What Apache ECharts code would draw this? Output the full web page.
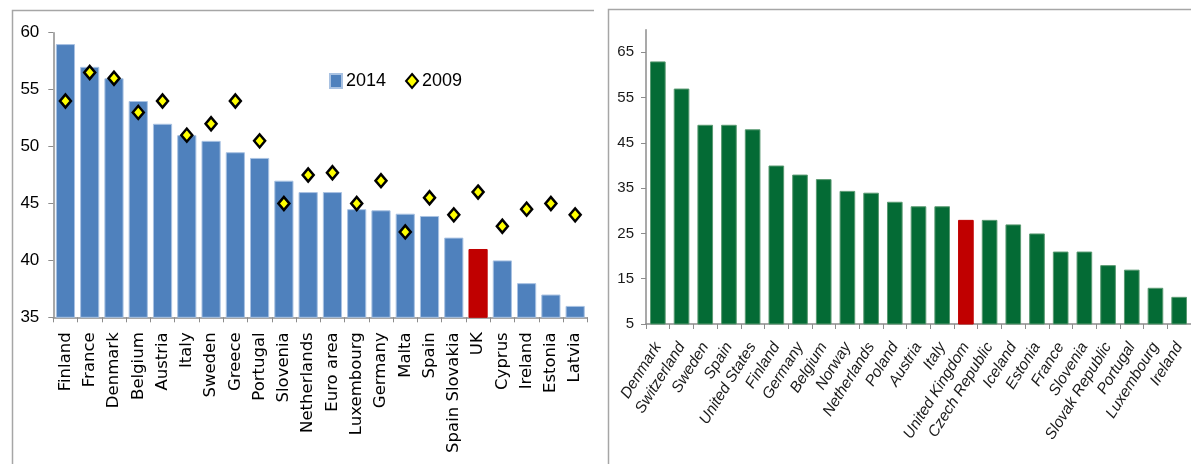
<!DOCTYPE html>
<html>
<head>
<meta charset="utf-8">
<script src="https://cdn.jsdelivr.net/npm/echarts@6/dist/echarts.min.js"></script>
<style>
  html, body { margin: 0; padding: 0; background: #fff; }
  #chart { width: 1191px; height: 464px; }
</style>
</head>
<body>
<div id="chart"></div>
<script>
// Left panel: euro-area comparison, 2014 bars with 2009 markers
const leftCategories = ['Finland', 'France', 'Denmark', 'Belgium', 'Austria', 'Italy', 'Sweden', 'Greece',
  'Portugal', 'Slovenia', 'Netherlands', 'Euro area', 'Luxembourg', 'Germany', 'Malta', 'Spain',
  'Spain Slovakia', 'UK', 'Cyprus', 'Ireland', 'Estonia', 'Latvia'];
const values2014 = [59, 57, 56, 54, 52, 51, 50.5, 49.5, 49, 47, 46, 46, 44.5, 44.4, 44.1, 43.9,
  42, 41, 40, 38, 37, 36];
const values2009 = [54, 56.5, 56, 53, 54, 51, 52, 54, 50.5, 45, 47.5, 47.7, 45, 47, 42.5, 45.5,
  44, 46, 43, 44.5, 45, 44];
const leftTicks = [35, 40, 45, 50, 55, 60];

// Right panel: OECD comparison
const rightCategories = ['Denmark', 'Switzerland', 'Sweden', 'Spain', 'United States', 'Finland',
  'Germany', 'Belgium', 'Norway', 'Netherlands', 'Poland', 'Austria', 'Italy', 'United Kingdom',
  'Czech Republic', 'Iceland', 'Estonia', 'France', 'Slovenia', 'Slovak Republic', 'Portugal',
  'Luxembourg', 'Ireland'];
const rightValues = [63, 57, 49, 49, 48, 40, 38, 37, 34.4, 34, 32, 31, 31, 28, 28, 27, 25, 21, 21,
  18, 17, 13, 11];
const rightTicks = [5, 15, 25, 35, 45, 55, 65];

const highlightLeft = 'UK';
const highlightRight = 'United Kingdom';

const BLUE = '#4f81bd';
const RED = '#c00000';
const GREEN = '#046b35';
const AXIS = '#8c8c8c';
const NARROW = '"Liberation Sans Narrow", "Liberation Sans", Arial, sans-serif';

const chart = echarts.init(document.getElementById('chart'), null, { renderer: 'canvas' });

chart.setOption({
  backgroundColor: '#ffffff',
  animation: false,
  graphic: [
    // panel frames
    { type: 'polyline', shape: { points: [[12.5, 464], [12.5, 10.5], [594, 10.5]] },
      style: { stroke: '#a6a6a6', lineWidth: 1.5, fill: null }, silent: true },
    { type: 'polyline', shape: { points: [[608.5, 464], [608.5, 9.5], [1191, 9.5]] },
      style: { stroke: '#a6a6a6', lineWidth: 1.5, fill: null }, silent: true }
  ],
  legend: {
    left: 329, top: 72, padding: 0,
    itemWidth: 12, itemHeight: 14, itemGap: 19,
    textStyle: { fontFamily: NARROW, fontSize: 18, color: '#000', padding: [0, 0, 0, -1] },
    data: [
      { name: '2014', icon: 'rect' },
      { name: '2009', icon: 'diamond' }
    ]
  },
  grid: [
    { left: 53.3, top: 32.7, right: 603.7, bottom: 146.7 },
    { left: 646, top: 29.7, right: -1, bottom: 140 }
  ],
  xAxis: [
    {
      type: 'category', gridIndex: 0, data: leftCategories,
      axisLine: { lineStyle: { color: AXIS, width: 1.5 } },
      axisTick: { show: true, alignWithLabel: false, length: 5, lineStyle: { color: AXIS } },
      axisLabel: {
        interval: 0, rotate: 90, margin: 15,
        fontFamily: '"DejaVu Sans", "Open Sans", sans-serif', fontSize: 16.5, color: '#000'
      }
    },
    {
      type: 'category', gridIndex: 1, data: rightCategories,
      axisLine: { lineStyle: { color: AXIS, width: 1.5 } },
      axisTick: { show: true, length: 5, lineStyle: { color: AXIS } },
      axisLabel: {
        interval: 0, rotate: 58, margin: 20,
        fontFamily: '"Liberation Sans", Arial, sans-serif', fontStyle: 'italic', fontSize: 15.5, color: '#1a1a1a'
      }
    }
  ],
  yAxis: [
    {
      type: 'value', gridIndex: 0, min: 35, max: 60, interval: 5,
      splitLine: { show: false },
      axisLine: { show: true, lineStyle: { color: AXIS, width: 1.5 } },
      axisTick: { show: true, length: 5, lineStyle: { color: AXIS } },
      axisLabel: {
        margin: 14, fontFamily: NARROW, fontSize: 17, color: '#000',
        customValues: leftTicks
      }
    },
    {
      type: 'value', gridIndex: 1, min: 5, max: 70,
      splitLine: { show: false },
      axisLine: { show: true, lineStyle: { color: AXIS, width: 1.5 } },
      axisTick: { show: true, length: 5, lineStyle: { color: AXIS }, customValues: rightTicks },
      axisLabel: {
        margin: 12, fontFamily: NARROW, fontSize: 15, color: '#1a1a1a',
        customValues: rightTicks
      }
    }
  ],
  series: [
    {
      name: '2014', type: 'bar', xAxisIndex: 0, yAxisIndex: 0,
      barCategoryGap: '21%',
      itemStyle: { color: BLUE, borderColor: '#a9c2e2', borderWidth: 1 },
      data: values2014.map((v, i) => leftCategories[i] === highlightLeft
        ? { value: v, itemStyle: { color: RED, borderColor: RED } }
        : v)
    },
    {
      name: '2009', type: 'scatter', xAxisIndex: 0, yAxisIndex: 0,
      symbol: 'diamond', symbolSize: [11, 13],
      itemStyle: { color: '#ffff00', borderColor: '#000', borderWidth: 2.5, opacity: 1 },
      data: values2009, z: 5
    },
    {
      name: 'OECD', type: 'bar', xAxisIndex: 1, yAxisIndex: 1,
      barCategoryGap: '34%',
      itemStyle: { color: GREEN, borderColor: '#5a9a72', borderWidth: 1 },
      data: rightValues.map((v, i) => rightCategories[i] === highlightRight
        ? { value: v, itemStyle: { color: RED, borderColor: RED } }
        : v)
    }
  ]
});
</script>
</body>
</html>
